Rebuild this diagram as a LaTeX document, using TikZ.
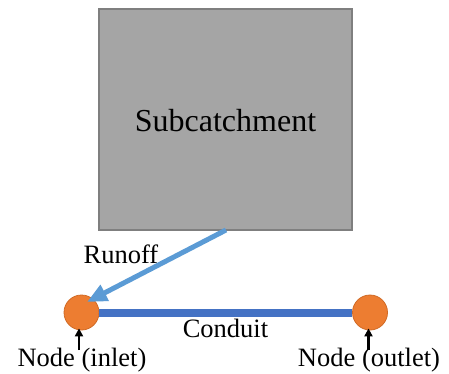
\documentclass[tikz,border=0pt]{standalone}
\usepackage{fontspec}
\setmainfont{LiberationSerif}[Extension=.ttf, UprightFont=*-Regular]
\usetikzlibrary{arrows.meta}
\definecolor{boxfill}{HTML}{A5A5A5}
\definecolor{boxline}{HTML}{7F7F7F}
\definecolor{nodeorange}{HTML}{ED7D31}
\definecolor{nodeedge}{HTML}{D06A25}
\definecolor{conduitblue}{HTML}{4472C4}
\definecolor{runoffblue}{HTML}{5B9BD5}
\tikzset{
  subbox/.style={draw=boxline, fill=boxfill, line width=2pt, minimum width=253pt, minimum height=221pt, inner sep=0pt},
  junction/.style={circle, draw=nodeedge, fill=nodeorange, line width=0.8pt, minimum size=35pt, inner sep=0pt},
  lbl/.style={anchor=base, inner sep=0pt, font=\fontsize{26.5}{30}\selectfont},
  pointer/.style={-{Triangle[length=8pt,width=8pt]}, line width=2.6pt, black, shorten >=-2pt},
}
\begin{document}
\begin{tikzpicture}[x=1pt,y=-1pt]
\useasboundingbox (0,0) rectangle (449,374);
\node[subbox] (sub) at (225.5,119.5) {};
\node[anchor=base, inner sep=0pt, font=\fontsize{32}{38}\selectfont] (subtext) at (225.5,132) {Subcatchment};
\node[junction] (inlet) at (81.5,312.5) {};
\node[junction] (outlet) at (370,312.5) {};
\draw[conduitblue, line width=8pt] (inlet.east) -- (outlet.west);
\coordinate (runtip) at (87,302);
\draw[runoffblue, line width=5pt, -{Triangle[length=20pt,width=17pt]}] (226,230) -- (runtip);
\node[lbl] (runoff) at (121,263) {Runoff};
\node[lbl] (conduit) at (225.5,337) {Conduit};
\node[lbl] (inletlbl) at (82,366) {Node (inlet)};
\node[lbl] (outletlbl) at (369,366) {Node (outlet)};
\coordinate (inarrow) at (79,350);
\coordinate (outarrow) at (368.5,350);
\draw[pointer] (inarrow) -- (inarrow |- inlet.south);
\draw[pointer] (outarrow) -- (outarrow |- outlet.south);
\end{tikzpicture}
\end{document}
